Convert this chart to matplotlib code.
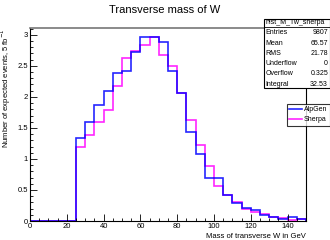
import numpy as np
import matplotlib
matplotlib.use("Agg")
import matplotlib.pyplot as plt
from matplotlib.patches import Rectangle

plt.rcParams['font.family'] = ['Liberation Sans', 'DejaVu Sans']

# bin edges: 5 GeV bins from 0 to 150
edges = np.arange(0, 155, 5)

alpgen = [0, 0, 0, 0, 0,
          1.33, 1.60, 1.87, 2.09, 2.39, 2.41, 2.73, 2.97, 2.97, 2.89,
          2.41, 2.06, 1.43, 1.08, 0.69, 0.69, 0.42, 0.285, 0.215, 0.17,
          0.097, 0.07, 0.027, 0.07, 0.027]
sherpa = [0, 0, 0, 0, 0,
          1.20, 1.39, 1.60, 1.79, 2.18, 2.62, 2.74, 2.84, 2.96, 2.68,
          2.50, 2.06, 1.62, 1.22, 0.88, 0.56, 0.42, 0.30, 0.20, 0.14,
          0.11, 0.07, 0.043, 0.01, 0.04]

stat_names = ["Entries", "Mean", "RMS", "Underflow", "Overflow", "Integral"]
stat_values = ["9807", "65.57", "21.78", "0", "0.325", "32.53"]

fig = plt.figure(figsize=(3.3, 2.4), dpi=100)
ax = fig.add_axes([30/330, 1-221/240, 276/330, 193/240])

h_sh = ax.stairs(sherpa, edges, color='#ff00ff', lw=1.2, alpha=0.85, label='Sherpa')
h_al = ax.stairs(alpgen, edges, color='#0000ff', lw=1.2, alpha=0.85, label='AlpGen')

ax.set_xlim(0, 150)
ax.set_ylim(0, 3.11)
ax.set_xticks(np.arange(0, 150, 20))
ax.set_xticks(np.arange(0, 151, 5), minor=True)
ax.set_yticks([0, 0.5, 1, 1.5, 2, 2.5, 3])
ax.set_yticklabels(["0", "0.5", "1", "1.5", "2", "2.5", "3"])
ax.set_yticks(np.arange(0, 3.11, 0.1), minor=True)
ax.tick_params(which='both', direction='in', labelsize=5.5, pad=1.5, width=0.6)
ax.tick_params(which='major', length=5)
ax.tick_params(which='minor', length=2.5)
ax.tick_params(axis='y', which='both', left=True, right=False)
ax.tick_params(axis='x', which='both', bottom=True, top=False)
for s in ax.spines.values():
    s.set_linewidth(0.8)
ax.spines['top'].set_color('#777777')
ax.spines['top'].set_linewidth(1.2)

ax.set_xlabel("Mass of transverse W in GeV", fontsize=5.5, loc='right', labelpad=2)
ax.set_ylabel("Number of expected events, 5 fb$^{-1}$", fontsize=5.5, loc='top')
ax.yaxis.set_label_coords(-0.062, 1.0)

fig.text(0.5, 1-10/240, "Transverse mass of W", ha='center', va='center', fontsize=8)

# statistics box
bx0, by0 = 264/330, 1-88/240
bw, bh = 66/330, 69/240
fig.add_artist(Rectangle((bx0, by0), bw, bh, transform=fig.transFigure,
                         facecolor='white', edgecolor='black', lw=0.8, zorder=5))
fig.add_artist(plt.Line2D([bx0, bx0+bw], [1-27/240, 1-27/240], transform=fig.transFigure,
                          color='black', lw=0.6, zorder=6))
fig.text(bx0+0.005, 1-23/240, "hist_M_Tw_sherpa", fontsize=5, va='center', ha='left', zorder=7)
for i, (n, v) in enumerate(zip(stat_names, stat_values)):
    yy = 1-(33+i*10.2)/240
    fig.text(bx0+0.005, yy, n, fontsize=5, va='center', ha='left', zorder=7)
    fig.text(bx0+bw-0.006, yy, v, fontsize=5, va='center', ha='right', zorder=7)

leg = fig.legend(handles=[h_al, h_sh], labels=['AlpGen', 'Sherpa'],
                 loc='upper left', bbox_to_anchor=(287/330, 1-104/240),
                 fontsize=5, frameon=True, fancybox=False, handlelength=1.8,
                 handletextpad=0.3, borderpad=0.35, labelspacing=0.4,
                 borderaxespad=0)
leg.get_frame().set_edgecolor('black')
leg.get_frame().set_linewidth(0.8)
leg.set_zorder(8)

fig.savefig("out.png", dpi=100)
